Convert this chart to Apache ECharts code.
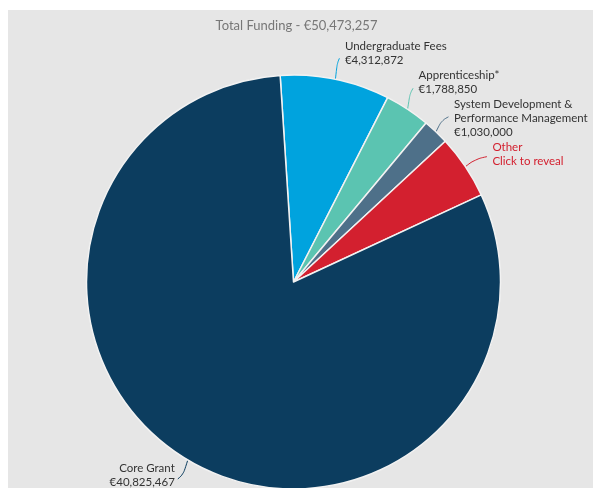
<!DOCTYPE html>
<html>
<head>
<meta charset="utf-8">
<script src="https://cdn.jsdelivr.net/npm/echarts@6/dist/echarts.min.js"></script>
<style>
  html, body { margin: 0; padding: 0; background: #ffffff; }
  #chart { width: 593px; height: 488px; }
</style>
</head>
<body>
<div id="chart"></div>
<script>
// ---- Data ----
const categories = ['Undergraduate Fees', 'Apprenticeship*', 'System Development & Performance Management', 'Other', 'Core Grant'];
const values = [4312872, 1788850, 1030000, 2516068, 40825467];
const totalFunding = 50473257;
const otherCaption = 'Click to reveal';

// ---- Styles ----
const sliceColors = ['#00a3de', '#5bc4b1', '#4e7089', '#d3202f', '#0c3d5f'];
const labelColors = ['#333333', '#333333', '#333333', '#d3202f', '#333333'];
// per-slice connector end offset from the slice edge, and label offset from connector end
const connectorEnd = [[4, -21], [5.5, -21], [12.5, -15], [21.5, -10], [-10, 19]];
const labelShift = [[5.5, -5], [5.5, -6], [5.5, 1.5], [5.5, -2.5], [-3, -4]];

function fmt(v) { return '€' + v.toLocaleString('en-US'); }

const chart = echarts.init(document.getElementById('chart'), null, { renderer: 'canvas' });

chart.setOption({
  animation: false,
  backgroundColor: '#ffffff',
  graphic: [{
    type: 'rect', left: 8, top: 10, z: -10,
    shape: { width: 585, height: 478 },
    style: { fill: '#e6e6e6' }
  }],
  title: {
    text: 'Total Funding - ' + fmt(totalFunding),
    left: 'center', top: 14,
    textStyle: { fontFamily: 'Lato', fontSize: 13, fontWeight: 'normal', color: '#777777' }
  },
  series: [{
    type: 'pie',
    center: [293.5, 282],
    radius: 207,
    startAngle: 93.7,
    clockwise: true,
    avoidLabelOverlap: false,
    itemStyle: { borderColor: '#f2f2f2', borderWidth: 1.5 },
    label: {
      show: true, position: 'outside',
      fontFamily: 'Lato', fontSize: 11.5, lineHeight: 14,
      formatter: function (p) {
        if (p.name === 'Other') return p.name + '\n' + otherCaption;
        return p.name.replace('& ', '&\n') + '\n' + fmt(p.value);
      }
    },
    labelLine: { show: true, smooth: 0.4, lineStyle: { width: 1 } },
    labelLayout: function (params) {
      const i = params.dataIndex;
      const s = params.labelLinePoints[0];
      const e = [s[0] + connectorEnd[i][0], s[1] + connectorEnd[i][1]];
      const m = [s[0] + connectorEnd[i][0] * 0.45, s[1] + connectorEnd[i][1] * 0.75];
      const right = connectorEnd[i][0] >= 0;
      return {
        x: e[0] + labelShift[i][0],
        y: e[1] + labelShift[i][1],
        align: right ? 'left' : 'right',
        verticalAlign: 'middle',
        labelLinePoints: [s, m, e]
      };
    },
    data: categories.map(function (c, i) {
      return {
        name: c, value: values[i],
        itemStyle: { color: sliceColors[i] },
        label: { color: labelColors[i] },
        labelLine: { lineStyle: { color: sliceColors[i] } }
      };
    })
  }]
});
</script>
</body>
</html>
